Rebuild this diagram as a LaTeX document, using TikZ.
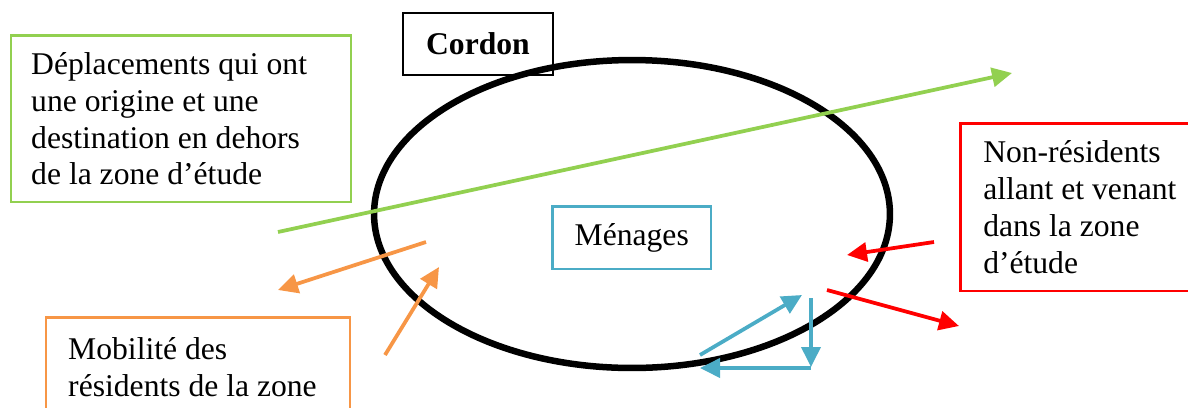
\documentclass[tikz,border=0pt]{standalone}
\usepackage{fontspec}
\setmainfont{Liberation Serif}
\usetikzlibrary{arrows.meta, positioning}

\definecolor{zonegreen}{HTML}{92D050}
\definecolor{zoneorange}{HTML}{F79646}
\definecolor{zoneblue}{HTML}{4BACC6}
\definecolor{zonered}{HTML}{FF0000}

\begin{document}
\begin{tikzpicture}[x=0.02cm, y=-0.02cm,
    every node/.style={font=\fontsize{18}{21}\selectfont},
    box/.style={draw, line width=0.05cm, anchor=north west, inner ysep=0pt},
    flow/.style={line width=0.075cm, -{Triangle[length=0.4cm, width=0.38cm]}}]
    \useasboundingbox (0,0) rectangle (1188,407);

    \node(label_cordon)[box, line width=0.04cm, minimum width=3cm, minimum height=1.24cm,
        font=\fontsize{18}{21}\selectfont\bfseries] at (402,12) {Cordon};
    \draw[line width=0.13cm] (632,214) ellipse [x radius=5.16cm, y radius=3.08cm];

    \node(label_menages)[box, draw=zoneblue, minimum width=3.18cm, minimum height=1.26cm]
        at (551,205) {Ménages};
    \node(label_transit)[box, draw=zonegreen, minimum width=6.8cm, minimum height=3.34cm,
        inner xsep=0.4cm, text width=6cm, align=flush left] at (10,34)
        {Déplacements qui ont\\une origine et une\\destination en dehors\\de la zone d’étude};
    \node(label_visitors)[box, draw=zonered, minimum width=5.02cm, minimum height=3.36cm,
        inner xsep=0.46cm, text width=4.1cm, align=flush left] at (959,122)
        {Non-résidents\\allant et venant\\dans la zone\\d’étude};
    \node(label_residents)[box, draw=zoneorange, minimum width=6.08cm, minimum height=2cm,
        inner xsep=0.44cm, text width=5.2cm, align=flush left] at (45,316)
        {Mobilité des\\résidents de la zone};

    % free ends of the flows
    \coordinate (transit_in) at (278,232);
    \coordinate (transit_out) at (1012,73);
    \coordinate (visit_a) at (934,242);
    \coordinate (visit_b) at (847,255);
    \coordinate (visit_c) at (827,290);
    \coordinate (visit_d) at (959,326);
    \coordinate (res_a) at (426,242);
    \coordinate (res_b) at (278,290);
    \coordinate (res_c) at (385,355);
    \coordinate (res_d) at (439,267);
    \coordinate (loop_a) at (700,355);
    \coordinate (loop_b) at (802,295);
    \coordinate (loop_c) at (811,298);
    \coordinate (loop_d) at (811,367);
    \coordinate (loop_e) at (811,368);
    \coordinate (loop_f) at (700,368);

    \path[every edge/.append style={flow}]
    (transit_in) edge[zonegreen] (transit_out)
    (visit_a) edge[zonered] (visit_b)
    (visit_c) edge[zonered] (visit_d)
    (res_a) edge[zoneorange] (res_b)
    (res_c) edge[zoneorange] (res_d)
    (loop_a) edge[zoneblue] (loop_b)
    (loop_c) edge[zoneblue] (loop_d)
    (loop_e) edge[zoneblue] (loop_f)
    ;
\end{tikzpicture}
\end{document}
